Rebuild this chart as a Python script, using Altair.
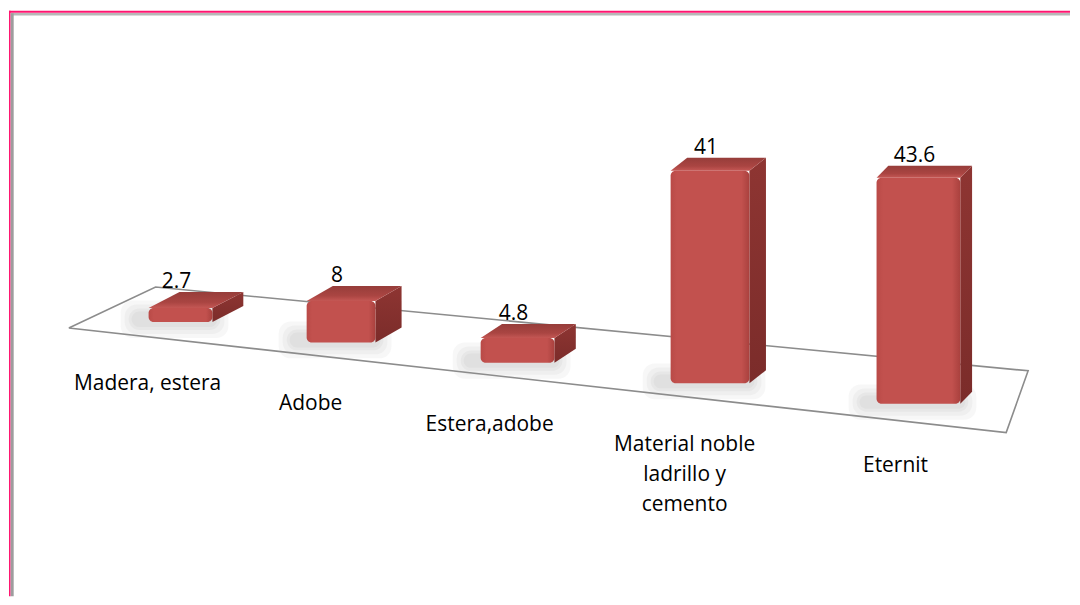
import altair as alt
import pandas as pd

# ---- data ----
categories = ["Madera, estera", "Adobe", "Estera,adobe",
              "Material noble\nladrillo y\ncemento", "Eternit"]
values = [2.7, 8, 4.8, 41, 43.6]
value_labels = ["2.7", "8", "4.8", "41", "43.6"]

# ---- layout / perspective style constants ----
W, H = 1064, 589
PX = 5.2                                  # pixels per value unit
Y0 = 314                                  # plot-y of first bar's floor
Y_MIN = -(H - Y0) / PX
Y_MAX = Y_MIN + H / PX

def center(i): return 172 + 153 * i + 8 * i * i
def bw(i): return 64 + 5 * i
def dpx(i): return 31 - 4.8 * i            # depth, x (px)
def dpy(i): return (16 - i) / PX           # depth, y (value units)
def base(i): return -20.5 * i / PX         # floor level under bar i
def pv(page_y): return (322 - page_y) / PX # page y -> value units

rows_front, rows_top, rows_side, rows_shadow = [], [], [], []
for i, (c, v) in enumerate(zip(categories, values)):
    xl, xr = center(i) - bw(i) / 2, center(i) + bw(i) / 2
    b = base(i)
    top = b + v
    rows_front.append(dict(cat=c, x=xl, x2=xr, y=top, y2=b,
                           lx=center(i) - 4, ly=top + dpy(i),
                           cx=center(i) - 33 + 2.5 * i, cy=b - 68 / PX,
                           lab=value_labels[i]))
    for t in (0, 1):
        rows_top.append(dict(cat=c, y=top + t * dpy(i),
                             x=xl + t * dpx(i), x2=xr + t * dpx(i)))
        rows_side.append(dict(cat=c, x=xr + t * dpx(i),
                              y=top + t * dpy(i), y2=b + t * dpy(i)))
    for k, e in enumerate((12, 8, 4, 1)):
        rows_shadow.append(dict(cat=c, k=k, x=xl - 16 - e, x2=xr + 4 + e,
                                y=b + dpy(i) * 0.6 + e / PX, y2=b - (4 + e) / PX))

front = pd.DataFrame(rows_front)
topf = pd.DataFrame(rows_top)
side = pd.DataFrame(rows_side)
shadow = pd.DataFrame(rows_shadow)

floor_x = [68, 155, 1030, 1008, 68]
floor_y = [328, 287, 371, 433, 328]
floor = pd.DataFrame(dict(x=[x - 8 for x in floor_x],
                          y=[pv(y) for y in floor_y],
                          o=list(range(5))))

xs = alt.Scale(domain=[0, W], nice=False, zero=False)
ys = alt.Scale(domain=[Y_MIN, Y_MAX], nice=False, zero=False)
X = lambda f: alt.X(f, type="quantitative", scale=xs, axis=None)
Y = lambda f: alt.Y(f, type="quantitative", scale=ys, axis=None)

shadow_layer = alt.Chart(shadow).mark_rect(color="#6f6f6f", opacity=0.06,
                                           cornerRadius=12).encode(
    x=X("x"), x2="x2", y=Y("y"), y2="y2")

floor_layer = alt.Chart(floor).mark_line(color="#8c8c8c", strokeWidth=1.6).encode(
    x=X("x"), y=Y("y"), order="o:O")

side_layer = alt.Chart(side).mark_area(
    orient="vertical",
    color=alt.LinearGradient(gradient="linear", x1=0, y1=0, x2=0, y2=1,
                             stops=[alt.GradientStop(color="#8e3532", offset=0),
                                    alt.GradientStop(color="#7b2c2a", offset=1)])
).encode(x=X("x"), y=Y("y"), y2="y2", detail="cat:N")

top_layer = alt.Chart(topf).mark_area(
    orient="horizontal",
    color=alt.LinearGradient(gradient="linear", x1=0, y1=1, x2=0, y2=0,
                             stops=[alt.GradientStop(color="#c45754", offset=0),
                                    alt.GradientStop(color="#aa4542", offset=0.35),
                                    alt.GradientStop(color="#963d3a", offset=1)])
).encode(y=Y("y"), x=X("x"), x2="x2", detail="cat:N")

front_layer = alt.Chart(front).mark_rect(
    cornerRadius=5,
    color=alt.LinearGradient(gradient="linear", x1=0, y1=0, x2=1, y2=0,
                             stops=[alt.GradientStop(color="#b94a47", offset=0),
                                    alt.GradientStop(color="#c2514e", offset=0.08),
                                    alt.GradientStop(color="#c2514e", offset=0.9),
                                    alt.GradientStop(color="#a9413e", offset=1)])
).encode(x=X("x"), x2="x2", y=Y("y"), y2="y2")

value_text = alt.Chart(front).mark_text(
    font="Open Sans", fontSize=21, color="#000000", baseline="alphabetic", dy=-4
).encode(x=X("lx"), y=Y("ly"), text="lab:N")

cat_text = alt.Chart(front).mark_text(
    font="Open Sans", fontSize=21, color="#000000", baseline="alphabetic",
    lineBreak="\n", lineHeight=30
).encode(x=X("cx"), y=Y("cy"), text="cat:N")

one = pd.DataFrame({"a": [0]})
pink_top = alt.Chart(one).mark_rule(color="#ff1570", strokeWidth=2).encode(
    x=alt.value(0), x2=alt.value(W), y=alt.value(3))
pink_left = alt.Chart(one).mark_rule(color="#ff1570", strokeWidth=1.6).encode(
    x=alt.value(0.8), y=alt.value(2), y2=alt.value(H))
gray_top = alt.Chart(one).mark_rule(color="#b7b7b7", strokeWidth=2.5).encode(
    x=alt.value(2), x2=alt.value(W), y=alt.value(5.5))
gray_left = alt.Chart(one).mark_rule(color="#9d9d9d", strokeWidth=3).encode(
    x=alt.value(3.2), y=alt.value(4.5), y2=alt.value(H))

chart = alt.layer(
    shadow_layer, floor_layer, side_layer, top_layer, front_layer,
    value_text, cat_text, pink_top, pink_left, gray_top, gray_left
).properties(width=W, height=H, padding=0, background="white").configure_view(
    strokeWidth=0)

chart.save("out.html", embed_options={"renderer": "svg", "actions": False})
